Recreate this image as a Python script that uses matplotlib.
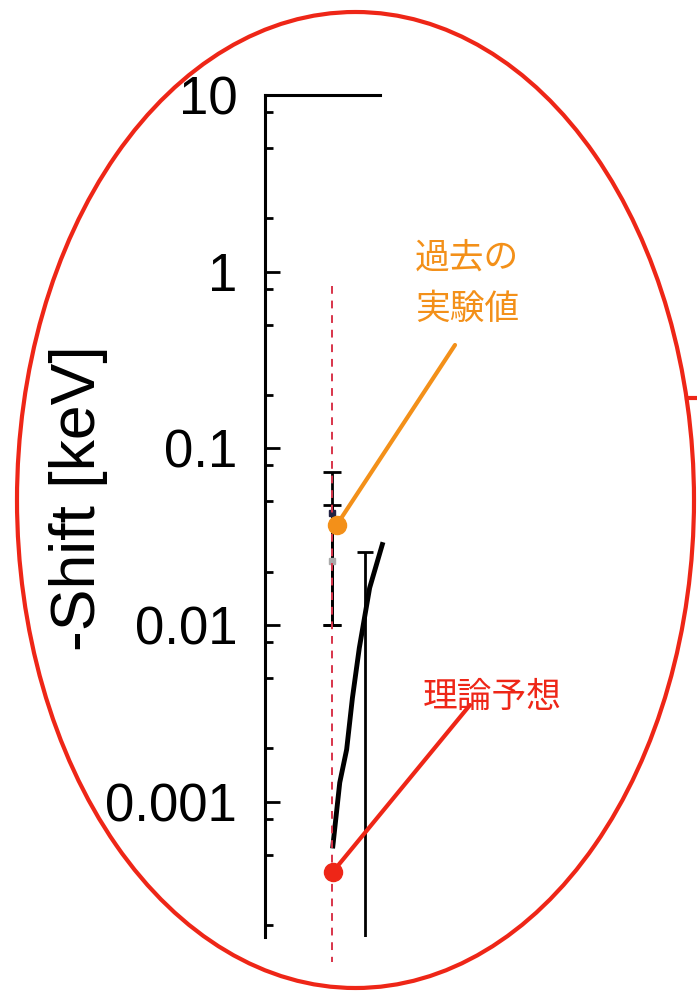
import matplotlib
matplotlib.use('Agg')
import matplotlib.pyplot as plt
from matplotlib.patches import Ellipse, ConnectionPatch
from matplotlib.ticker import LogLocator, NullFormatter, FixedLocator, FixedFormatter

plt.rcParams['font.family'] = ['Liberation Sans', 'DejaVu Sans']

# measured shifts [keV], x is just a position along the panel
exp_x = [0.583, 0.583]
exp_val = [0.043, 0.023]
exp_hi = [0.073, 0.048]
exp_lo = [0.010, 0.010]

limit_x = 0.87
limit_hi = 0.026
limit_lo = 1e-4

theory_x = [0.59, 0.65, 0.71, 0.76, 0.82, 0.91, 1.02]
theory_y = [0.00056, 0.00128, 0.00197, 0.00385, 0.0074, 0.0162, 0.0285]

ref_x = 0.583
ref_span = [0.83, 0.000123]

past_x, past_y = 0.626, 0.037      # 過去の実験値
pred_x, pred_y = 0.59, 0.0004      # 理論予想

yticks = [10, 1, 0.1, 0.01, 0.001]
ytick_labels = ['10', '1', '0.1', '0.01', '0.001']

ORANGE = '#f39019'
RED = '#ee2617'
DASH_RED = '#d8344a'

W, H = 697, 994
fig = plt.figure(figsize=(W / 100, H / 100), dpi=100)

# full-figure layer in pixel units for the circle and the labels
over = fig.add_axes([0, 0, 1, 1])
over.set_xlim(0, W)
over.set_ylim(H, 0)
over.axis('off')

ax = fig.add_axes([265 / W, 1 - 937 / H, (380 - 265) / W, (937 - 95) / H])
ax.patch.set_alpha(0)
ax.set_yscale('log')
ax.set_ylim(10 ** -3.767, 10)
ax.set_xlim(0, 1)

ax.spines['right'].set_visible(False)
ax.spines['bottom'].set_visible(False)
ax.spines['left'].set_linewidth(2.2)
ax.spines['top'].set_linewidth(2.2)
ax.xaxis.set_visible(False)

ax.yaxis.set_major_locator(FixedLocator(yticks))
ax.yaxis.set_major_formatter(FixedFormatter(ytick_labels))
ax.yaxis.set_minor_locator(LogLocator(base=10, subs=[2, 5, 8], numticks=20))
ax.yaxis.set_minor_formatter(NullFormatter())
ax.tick_params(axis='y', which='major', direction='in', length=11, width=2,
               labelsize=38, pad=20)
ax.tick_params(axis='y', which='minor', direction='in', length=6, width=2)

# experimental points with error bars
for x, v, hi, lo in zip(exp_x, exp_val, exp_hi, exp_lo):
    ax.errorbar([x], [v], yerr=[[v - lo], [hi - v]], fmt='none', ecolor='black',
                elinewidth=2, capsize=6.5, capthick=2, zorder=3)
ax.plot([exp_x[0]], [exp_val[0]], 's', color='#222244', ms=4, zorder=3)
ax.plot([exp_x[1]], [exp_val[1]], 's', color='#aaaaaa', ms=4, zorder=3)

# upper bar reaching below the plotted range
ax.errorbar([limit_x], [limit_hi], yerr=[[limit_hi - limit_lo], [0]], fmt='none',
            ecolor='black', elinewidth=2, capsize=5.5, capthick=2, zorder=3)

# theoretical curve
ax.plot(theory_x, theory_y, color='black', lw=3.5, clip_on=False, zorder=3)

# dashed reference line
ax.plot([ref_x, ref_x], ref_span, ls=(0, (4, 3.5)), color=DASH_RED, lw=1.4,
        clip_on=False, zorder=4)

# red circle around the panel
over.add_patch(Ellipse((355.5, 500), 2 * 338.5, 2 * 488, fill=False,
                       edgecolor=RED, lw=3))
over.plot([687, W], [398, 398], color=RED, lw=3)

over.text(79, 498, '-Shift [keV]', rotation=90, fontsize=45,
          ha='center', va='center')

# callouts
jp = ['Noto Sans CJK JP', 'DejaVu Sans']
over.text(467, 284, '過去の\n実験値', color=ORANGE, fontsize=25, family=jp,
          ha='center', va='center', linespacing=1.6)
over.text(492, 697, '理論予想', color=RED, fontsize=25, family=jp,
          ha='center', va='center')

for (px, py), (tx, ty), c in [((past_x, past_y), (455, 345), ORANGE),
                              ((pred_x, pred_y), (470, 705), RED)]:
    con = ConnectionPatch(xyA=(px, py), coordsA=ax.transData,
                          xyB=(tx, ty), coordsB=over.transData,
                          color=c, lw=3, zorder=5)
    fig.add_artist(con)

ax.plot([past_x], [past_y], 'o', color=ORANGE, ms=13, clip_on=False, zorder=6)
ax.plot([pred_x], [pred_y], 'o', color=RED, ms=13, clip_on=False, zorder=6)

fig.savefig('out.png', dpi=100)
